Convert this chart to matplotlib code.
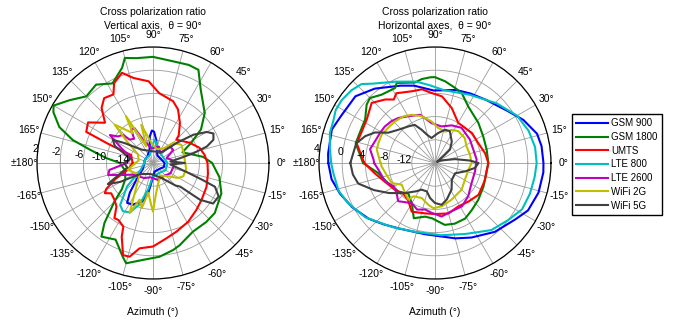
import numpy as np
import matplotlib
matplotlib.use("Agg")
import matplotlib.pyplot as plt

plt.rcParams['font.family'] = ['Liberation Sans', 'DejaVu Sans']

series_names = ["GSM 900", "GSM 1800", "UMTS", "LTE 800", "LTE 2600", "WiFi 2G", "WiFi 5G"]
series_colors = ["#0000ff", "#008000", "#ff0000", "#00bfbf", "#bf00bf", "#bfbf00", "#404040"]

# ---------------- Left panel: Vertical axis (dB) ----------------
L_gsm900_ang = [-180, -150, -135, -128, -123, -116, -105, -99, -95, -80, -45, -20, 0, 30, 60, 78, 82, 88, 92, 97, 103, 130, 160, 180]
L_gsm900_val = [-16.5, -16.0, -14.0, -11.5, -9.8, -10.0, -11.2, -12.8, -14.5, -16.5, -16.5, -16.0, -16.0, -16.5, -16.5, -15.0, -14.0, -12.6, -12.4, -13.4, -15.5, -16.5, -16.5, -16.5]

L_gsm1800_ang = [-180, -165, -150, -140, -135, -129, -125, -116, -108, -105, -96, -86, -77, -72, -60, -48, -39, -24, -12, 0, 7, 20, 28, 35, 44, 57, 64, 70, 79, 90, 99, 105, 108, 117, 126, 135, 143, 150, 153, 159, 164, 168, 174, 180]
L_gsm1800_val = [-12.3, -13.0, -12.5, -11.0, -8.6, -4.7, -2.5, -3.3, -1.05, -0.1, -1.2, -1.8, -2.6, -3.1, -4.3, -4.3, -4.3, -5.1, -6.3, -7.8, -9.3, -12.6, -10.5, -7.9, -5.6, -2.9, -0.13, 0.0, -0.13, 0.3, 0.3, 0.75, -0.75, -2.6, -1.3, -1.75, 0.0, 1.8, 1.27, -0.7, -3.6, -6.85, -9.9, -12.3]

L_umts_ang = [-180, -165, -157, -151, -148, -144, -136, -130, -125, -121, -115, -113, -108, -104, -99, -90, -80, -71, -59, -47, -37, -24, -11, 0, 9, 18, 29, 45, 47, 56, 65, 72, 85, 93, 103, 109, 116, 120, 127, 133, 140, 148, 155, 157, 160, 170, 180]
L_umts_val = [-14.5, -13.5, -11.0, -8.8, -8.2, -9.1, -8.8, -8.2, -6.4, -6.5, -5.9, -4.2, -1.3, -1.35, -3.1, -3.6, -4.8, -5.5, -6.2, -7.0, -7.5, -7.9, -8.35, -8.6, -9.0, -9.55, -10.8, -12.3, -11.5, -9.7, -7.8, -6.8, -5.9, -3.9, -2.95, -1.55, -2.7, -4.35, -4.0, -5.0, -7.2, -4.8, -5.3, -9.8, -14.0, -14.3, -14.5]

L_lte800_ang = [-180, -150, -138, -128, -122, -115, -108, -100, -92, -60, -30, 0, 30, 70, 80, 86, 92, 110, 150, 180]
L_lte800_val = [-16.5, -15.5, -12.0, -8.8, -8.2, -8.6, -10.5, -13.5, -15.5, -16.0, -15.5, -15.5, -16.0, -15.5, -14.5, -14.0, -15.0, -16.5, -16.5, -16.5]

L_lte2600_ang = [-180, -171, -165, -158, -150, -140, -120, -100, -75, -45, -31, -10, 9, 20, 33, 44, 54, 70, 95, 113, 118, 123, 128, 135, 137, 143, 147, 155, 165, 180]
L_lte2600_val = [-13.5, -10.4, -10.0, -12.5, -14.0, -14.5, -15.0, -15.5, -15.0, -15.0, -14.5, -14.4, -14.7, -15.5, -13.85, -13.9, -15.9, -15.0, -15.5, -13.6, -11.2, -11.15, -12.7, -12.3, -10.9, -10.4, -9.15, -12.0, -14.0, -13.5]

L_wifi2g_ang = [-180, -165, -150, -140, -125, -115, -110, -104, -99, -93, -90, -85, -77, -60, -39, -31, -24, -10, 6, 20, 33, 45, 55, 75, 95, 107, 112, 120, 124, 135, 140, 150, 170, 180]
L_wifi2g_val = [-15.0, -13.5, -14.5, -15.0, -13.0, -8.5, -11.3, -10.0, -12.8, -11.0, -9.6, -12.5, -14.2, -15.5, -14.3, -13.0, -12.3, -12.2, -12.5, -12.4, -12.2, -13.1, -15.0, -15.5, -14.5, -11.1, -14.9, -8.7, -11.8, -8.65, -12.0, -15.0, -15.5, -15.0]

L_wifi5g_ang = [-180, -170, -160, -155, -150, -140, -110, -90, -60, -45, -41, -38, -34, -27, -21, -19, -15, -5, 0, 5, 10, 13.5, 17, 21, 26, 30, 35, 40, 50, 90, 130, 145, 150, 156, 160, 170, 180]
L_wifi5g_val = [-13.0, -13.5, -11.5, -9.4, -11.5, -15.0, -16.0, -16.0, -15.0, -12.5, -11.8, -7.7, -5.5, -5.3, -6.55, -8.85, -12.0, -15.0, -12.5, -15.0, -13.3, -10.9, -8.3, -6.85, -6.4, -7.3, -9.5, -12.5, -15.5, -16.0, -15.0, -12.0, -10.0, -10.8, -12.3, -14.0, -13.0]

# ---------------- Right panel: Horizontal axes (dB) ----------------
R_gsm900_ang = [-180, -171, -162, -152, -140, -130, -119, -98, -75, -64, -49, -35, -27, -16, -5, 0, 9, 16, 26, 36, 51, 63, 74, 91, 105, 114, 129, 140, 153, 162, 175, 180]
R_gsm900_val = [2.4, 2.05, 1.2, 0.2, -1.06, -2.2, -3.1, -3.6, -2.55, -1.7, -0.27, 0.93, 2.0, 2.56, 2.75, 2.7, 2.6, 2.3, 0.95, -0.65, -2.0, -2.55, -2.9, -3.5, -2.2, -1.4, 0.5, 1.9, 2.1, 2.7, 2.5, 2.4]

R_gsm1800_ang = [-180, -170, -156.5, -142, -131, -120, -111, -100.5, -93, -81, -72, -61.5, -52, -40.5, -26, -8, 0, 14.5, 29, 43, 59.5, 69, 75, 83, 90, 93, 99, 104, 115.6, 118, 128, 135, 139.5, 148, 166, 180]
R_gsm1800_val = [-3.6, -6.05, -7.2, -8.0, -9.0, -8.0, -5.8, -6.6, -6.45, -5.2, -5.0, -5.1, -5.7, -6.2, -6.7, -7.0, -6.8, -6.8, -6.5, -5.8, -4.7, -3.1, -2.6, -1.8, -1.2, -1.2, -1.35, -1.7, -0.7, -1.35, -1.05, -0.15, -0.5, -1.8, -1.9, -3.6]

R_umts_ang = [-180, -170, -157, -146, -136, -126, -115.6, -101, -90, -75, -62, -49, -36, -19, 0, 11, 25, 39, 60, 73, 84, 93, 100, 108, 119, 123, 128, 136.5, 147.6, 166, 180]
R_umts_val = [-3.8, -5.5, -7.0, -7.7, -8.4, -8.1, -6.7, -7.15, -7.2, -7.0, -7.5, -7.2, -6.7, -6.9, -6.8, -7.2, -7.8, -7.8, -8.0, -6.1, -4.45, -3.9, -3.1, -3.0, -2.25, -2.95, -2.1, -0.95, -2.05, -2.1, -3.8]

R_lte800_ang = [-180, -174, -164, -155, -142, -124, -106, -85, -67, -50, -38, -28, -18, -8, 0, 9, 19, 30, 44, 63, 83, 94, 103, 116, 128, 133, 139, 146, 152, 157, 164, 172, 180]
R_lte800_val = [1.9, 1.6, 1.3, 0.5, -0.77, -2.7, -3.65, -3.5, -2.7, -0.9, 0.0, 1.0, 1.2, 1.35, 1.53, 1.47, 1.07, 0.33, -1.2, -2.8, -3.35, -2.55, -1.6, -0.4, 1.37, 2.6, 3.1, 3.4, 3.4, 3.0, 2.85, 2.3, 1.9]

R_lte2600_ang = [-180, -173, -160, -151, -142, -134, -120, -111, -102, -94, -83, -71, -58, -45, -29, -12, 5, 19, 34, 53, 66, 80, 95, 107, 120, 129, 136, 144, 151, 160, 168, 177, 180]
R_lte2600_val = [-5.5, -6.2, -6.8, -7.8, -7.6, -6.85, -8.0, -7.4, -7.8, -7.4, -6.7, -7.2, -7.2, -7.9, -8.8, -8.95, -8.8, -9.0, -8.75, -8.4, -8.9, -9.6, -9.1, -7.3, -6.7, -6.0, -5.6, -5.3, -5.2, -5.0, -4.55, -5.4, -5.5]

R_wifi2g_ang = [-180, -176, -166, -155, -147, -135, -126, -123, -111, -99, -92, -81, -66, -45, -29, -11, 0, 13, 28, 40, 54, 63, 72, 85, 95, 106, 116, 124, 134, 143, 152, 161, 167, 173, 180]
R_wifi2g_val = [-6.6, -6.8, -7.4, -7.8, -9.15, -8.7, -8.2, -9.15, -9.55, -8.7, -8.2, -8.45, -9.05, -9.5, -10.1, -10.1, -9.7, -9.8, -9.85, -9.3, -9.2, -9.6, -10.3, -9.9, -8.8, -7.6, -6.75, -6.3, -6.05, -5.9, -5.6, -5.65, -5.7, -6.2, -6.6]

R_wifi5g_ang = [-180, -172, -165, -156, -147, -136, -123, -117, -106, -98, -90, -81, -72, -58, -45, -27, -15.5, -7, 0, 4, 11, 22, 30, 38, 40, 42, 52, 65, 73, 84, 98, 106, 112, 118, 126, 138, 147, 153, 159, 166, 180]
R_wifi5g_val = [-1.4, -1.7, -2.3, -4.5, -6.5, -8.5, -10.2, -10.85, -10.9, -9.9, -9.1, -8.7, -9.4, -10.6, -11.9, -12.1, -10.6, -9.05, -8.5, -9.95, -12.5, -14.8, -15.6, -14.9, -13.75, -12.5, -11.3, -9.95, -10.0, -10.8, -11.65, -10.9, -9.8, -8.55, -8.2, -7.45, -6.4, -4.4, -3.1, -2.0, -1.4]

left_data = [(L_gsm900_ang, L_gsm900_val), (L_gsm1800_ang, L_gsm1800_val), (L_umts_ang, L_umts_val),
             (L_lte800_ang, L_lte800_val), (L_lte2600_ang, L_lte2600_val), (L_wifi2g_ang, L_wifi2g_val),
             (L_wifi5g_ang, L_wifi5g_val)]
right_data = [(R_gsm900_ang, R_gsm900_val), (R_gsm1800_ang, R_gsm1800_val), (R_umts_ang, R_umts_val),
              (R_lte800_ang, R_lte800_val), (R_lte2600_ang, R_lte2600_val), (R_wifi2g_ang, R_wifi2g_val),
              (R_wifi5g_ang, R_wifi5g_val)]

left_rticks = [-14, -10, -6, -2, 2]
right_rticks = [-12, -8, -4, 0, 4]
left_rlim = (-18, 2)
right_rlim = (-16, 4)

theta_ticks = list(range(0, 360, 15))
def theta_label(a):
    if a == 180:
        return "\u00b1180\u00b0"
    if a > 180:
        return "%d\u00b0" % (a - 360)
    return "%d\u00b0" % a
theta_labels = [theta_label(a) for a in theta_ticks]

W, H = 675, 327
fig = plt.figure(figsize=(W / 100, H / 100), dpi=100)

R = 116
def make_ax(cx, cy):
    return fig.add_axes([(cx - R) / W, (H - cy - R) / H, 2 * R / W, 2 * R / H], projection='polar')

axL = make_ax(153, 163)
axR = make_ax(435, 163)

fs = 7.5
handles = []
for ax, data, rticks, rlim in [(axL, left_data, left_rticks, left_rlim), (axR, right_data, right_rticks, right_rlim)]:
    ax.set_theta_zero_location('E')
    ax.set_theta_direction(1)
    ax.set_ylim(*rlim)
    ax.set_xticks(np.deg2rad(theta_ticks))
    ax.set_xticklabels(theta_labels, fontsize=fs)
    ax.set_yticks(rticks)
    ax.set_yticklabels([])
    ax.grid(True, color='#9a9a9a', lw=0.6, ls='-')
    ax.spines['polar'].set_color('black')
    ax.spines['polar'].set_linewidth(0.9)
    ax.tick_params(axis='x', direction='in', length=3, width=0.8, color='black', pad=2)
    ax.tick_params(axis='y', length=0)
    hs = []
    for (ang, val), col in zip(data, series_colors):
        h, = ax.plot(np.deg2rad(ang), val, color=col, lw=1.5, zorder=3)
        hs.append(h)
    handles = hs
    for v in rticks:
        ax.text(np.deg2rad(173), v, "%d" % v, ha='right', va='center', fontsize=fs, zorder=4)

fig.text(153 / W, 1 - 12 / H, "Cross polarization ratio", ha='center', va='center', fontsize=fs)
fig.text(153 / W, 1 - 25.5 / H, "Vertical axis,  \u03b8 = 90\u00b0", ha='center', va='center', fontsize=fs)
fig.text(435 / W, 1 - 12 / H, "Cross polarization ratio", ha='center', va='center', fontsize=fs)
fig.text(435 / W, 1 - 25.5 / H, "Horizontal axes,  \u03b8 = 90\u00b0", ha='center', va='center', fontsize=fs)
fig.text(153 / W, 1 - 312 / H, "Azimuth (\u00b0)", ha='center', va='center', fontsize=fs)
fig.text(435 / W, 1 - 312 / H, "Azimuth (\u00b0)", ha='center', va='center', fontsize=fs)

leg = fig.legend(handles, series_names, loc='upper left', bbox_to_anchor=(572 / W, 1 - 114 / H),
                 frameon=True, fancybox=False, edgecolor='black', fontsize=7, handlelength=3.3,
                 handletextpad=0.3, labelspacing=0.38, borderpad=0.45, borderaxespad=0)
leg.get_frame().set_linewidth(1.0)
leg.get_frame().set_alpha(1)

fig.savefig("out.png", dpi=100)
